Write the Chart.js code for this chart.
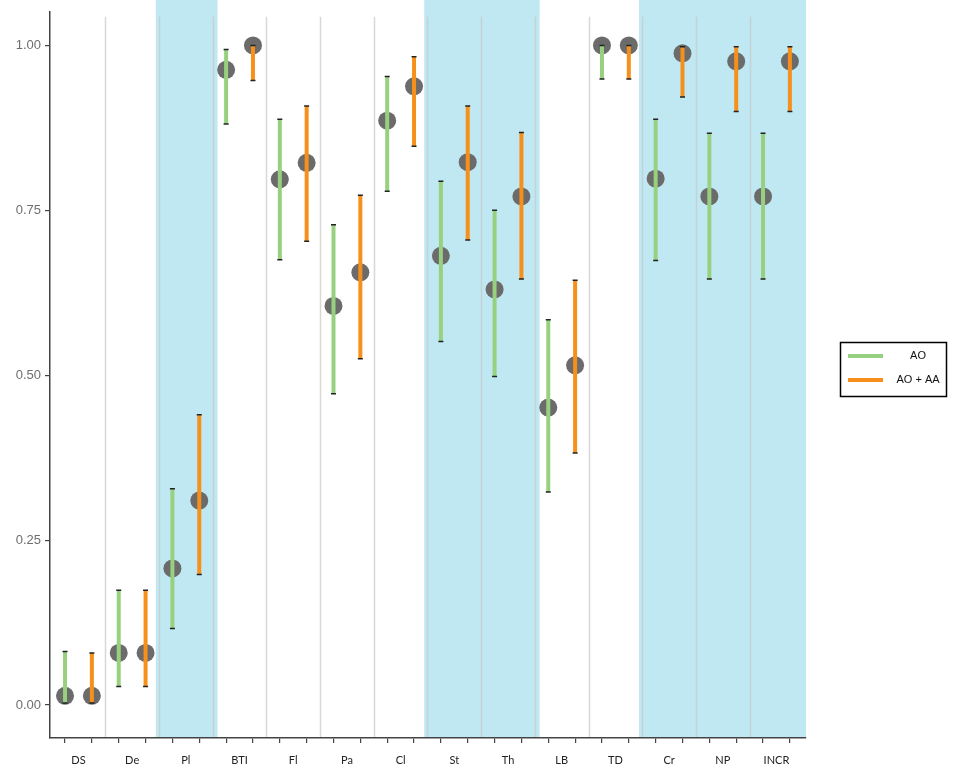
<!DOCTYPE html>
<html>
<head>
<meta charset="utf-8">
<script src="https://cdn.jsdelivr.net/npm/chart.js@4/dist/chart.umd.min.js"></script>
<style>
    html, body { margin: 0; padding: 0; background: #ffffff; }
    #wrap { width: 958px; height: 775px; }
</style>
</head>
<body>
<div id="wrap"><canvas id="chart" width="958" height="775"></canvas></div>
<script>
// Categories along the x axis
const categories = ['DS', 'De', 'Pl', 'BTI', 'Fl', 'Pa', 'Cl', 'St', 'Th', 'LB', 'TD', 'Cr', 'NP', 'INCR'];

// AO series (mean and interval)
const aoMean = [0.014, 0.079, 0.207, 0.963, 0.797, 0.605, 0.886, 0.681, 0.630, 0.451, 1.000, 0.798, 0.771, 0.771];
const aoLow  = [0.003, 0.028, 0.116, 0.881, 0.675, 0.472, 0.779, 0.551, 0.498, 0.323, 0.949, 0.674, 0.646, 0.646];
const aoHigh = [0.081, 0.174, 0.328, 0.994, 0.888, 0.728, 0.953, 0.794, 0.750, 0.584, 1.000, 0.888, 0.867, 0.867];

// AO + AA series (mean and interval)
const aaMean = [0.014, 0.079, 0.310, 1.000, 0.822, 0.656, 0.938, 0.823, 0.771, 0.515, 1.000, 0.988, 0.976, 0.976];
const aaLow  = [0.003, 0.028, 0.198, 0.947, 0.703, 0.525, 0.847, 0.705, 0.646, 0.382, 0.949, 0.922, 0.900, 0.900];
const aaHigh = [0.079, 0.174, 0.440, 1.000, 0.908, 0.773, 0.983, 0.908, 0.868, 0.644, 1.000, 0.998, 0.998, 0.998];

// Highlighted categories (blue bands) and y tick values
const shaded = ['Pl', 'St', 'Th', 'Cr', 'NP', 'INCR'];
const yTicks = [0, 0.25, 0.5, 0.75, 1.0];

const colors = {
    ao: '#97d17f',
    aa: '#f7901a',
    point: '#6b6b6b',
    cap: '#222222',
    band: '#bfe8f3',
    divider: 'rgba(200, 200, 200, 0.7)',
    axis: '#444444'
};

// each category holds two slots: AO at 2i, AO + AA at 2i + 1
function barData(low, high, slot) {
    const out = [];
    low.forEach((lo, i) => {
        const x = 2 * i + slot;
        out.push({ x: x, y: lo }, { x: x, y: high[i] }, { x: x, y: null });
    });
    return out;
}

function meanData(mean, slot) {
    return mean.map((v, i) => ({ x: 2 * i + slot, y: v }));
}

function capData(low, high, slot) {
    const out = [];
    low.forEach((lo, i) => {
        out.push({ x: 2 * i + slot, y: lo }, { x: 2 * i + slot, y: high[i] });
    });
    return out;
}

// Background bands + category dividers, drawn before the axes
const backdrop = {
    id: 'backdrop',
    beforeDraw(chart) {
        const { ctx, chartArea, scales } = chart;
        const x = scales.x;
        ctx.save();
        ctx.fillStyle = colors.band;
        categories.forEach((c, i) => {
            if (!shaded.includes(c)) return;
            const l = x.getPixelForValue(2 * i - 0.62);
            const r = Math.min(x.getPixelForValue(2 * i + 1.68), chartArea.right);
            ctx.fillRect(l, 0, r - l, chartArea.bottom);
        });
        ctx.strokeStyle = colors.divider;
        ctx.lineWidth = 1.5;
        for (let i = 1; i < categories.length; i++) {
            const px = Math.round(x.getPixelForValue(2 * i - 0.5)) + 0.5;
            ctx.beginPath();
            ctx.moveTo(px, chartArea.top + 5);
            ctx.lineTo(px, chartArea.bottom);
            ctx.stroke();
        }
        ctx.restore();
    }
};

// Boxed legend on the right
const boxLegend = {
    id: 'boxLegend',
    afterDraw(chart) {
        const { ctx } = chart;
        const items = chart.data.datasets.filter(d => d.legend);
        ctx.save();
        ctx.strokeStyle = '#000';
        ctx.lineWidth = 1.5;
        ctx.strokeRect(840.5, 342.5, 106, 54);
        ctx.font = "11px 'Liberation Sans', Arial, sans-serif";
        ctx.fillStyle = '#111';
        ctx.textAlign = 'center';
        ctx.textBaseline = 'middle';
        items.forEach((d, i) => {
            const y = 356 + i * 24;
            ctx.strokeStyle = d.borderColor;
            ctx.lineWidth = 4;
            ctx.beginPath();
            ctx.moveTo(848, y);
            ctx.lineTo(883, y);
            ctx.stroke();
            ctx.fillText(d.label, 918, y);
        });
        ctx.restore();
    }
};

new Chart(document.getElementById('chart'), {
    type: 'scatter',
    data: {
        datasets: [
            {
                label: 'AO mean', data: meanData(aoMean, 0), order: 3,
                pointRadius: 9, pointBackgroundColor: colors.point, pointBorderWidth: 0
            },
            {
                label: 'AO + AA mean', data: meanData(aaMean, 1), order: 3,
                pointRadius: 9, pointBackgroundColor: colors.point, pointBorderWidth: 0
            },
            {
                type: 'line', label: 'AO', legend: true, data: barData(aoLow, aoHigh, 0), order: 2,
                borderColor: colors.ao, borderWidth: 4, borderCapStyle: 'butt',
                pointRadius: 0, spanGaps: false, showLine: true
            },
            {
                type: 'line', label: 'AO + AA', legend: true, data: barData(aaLow, aaHigh, 1), order: 2,
                borderColor: colors.aa, borderWidth: 4, borderCapStyle: 'butt',
                pointRadius: 0, spanGaps: false, showLine: true
            },
            {
                label: 'caps', data: capData(aoLow, aoHigh, 0).concat(capData(aaLow, aaHigh, 1)), order: 1,
                pointStyle: 'line', pointRadius: 2.5, borderColor: colors.cap, pointBorderWidth: 1.5
            }
        ]
    },
    options: {
        responsive: false,
        animation: false,
        layout: { padding: { top: 10, right: 152, left: 0, bottom: 0 } },
        plugins: {
            legend: { display: false },
            tooltip: { enabled: false }
        },
        scales: {
            x: {
                type: 'linear',
                position: 'bottom',
                min: -0.56,
                max: 27.6,
                afterBuildTicks: axis => {
                    axis.ticks = categories.flatMap((c, i) => [{ value: 2 * i }, { value: 2 * i + 1 }]);
                },
                afterFit: axis => { axis.height = 6; },
                ticks: { display: false },
                grid: { drawOnChartArea: false, drawTicks: true, tickLength: 5, color: colors.axis, lineWidth: 1.2 },
                border: { display: true, color: colors.axis, width: 1.5 }
            },
            xl: {
                type: 'linear',
                position: 'bottom',
                min: -0.56,
                max: 27.6,
                afterBuildTicks: axis => {
                    axis.ticks = categories.map((c, i) => ({ value: 2 * i + 0.5 }));
                },
                afterFit: axis => { axis.height = 31; },
                ticks: {
                    autoSkip: false,
                    maxRotation: 0,
                    padding: 10,
                    color: '#222',
                    font: { family: "Lato, 'Open Sans', sans-serif", size: 11 },
                    callback: (v) => categories[Math.round((v - 0.5) / 2)]
                },
                grid: { display: false, drawTicks: false },
                border: { display: false }
            },
            y: {
                min: -0.05,
                max: 1.051,
                afterBuildTicks: axis => {
                    axis.ticks = yTicks.map(v => ({ value: v }));
                },
                afterFit: axis => { axis.width = 50; },
                ticks: {
                    padding: 4,
                    color: '#6e6e6e',
                    font: { family: "'Liberation Sans', Arial, sans-serif", size: 13 },
                    callback: v => v.toFixed(2)
                },
                grid: { drawOnChartArea: false, drawTicks: true, tickLength: 5, color: colors.axis, lineWidth: 1.2 },
                border: { display: true, color: colors.axis, width: 1.5 }
            }
        }
    },
    plugins: [backdrop, boxLegend]
});
</script>
</body>
</html>
